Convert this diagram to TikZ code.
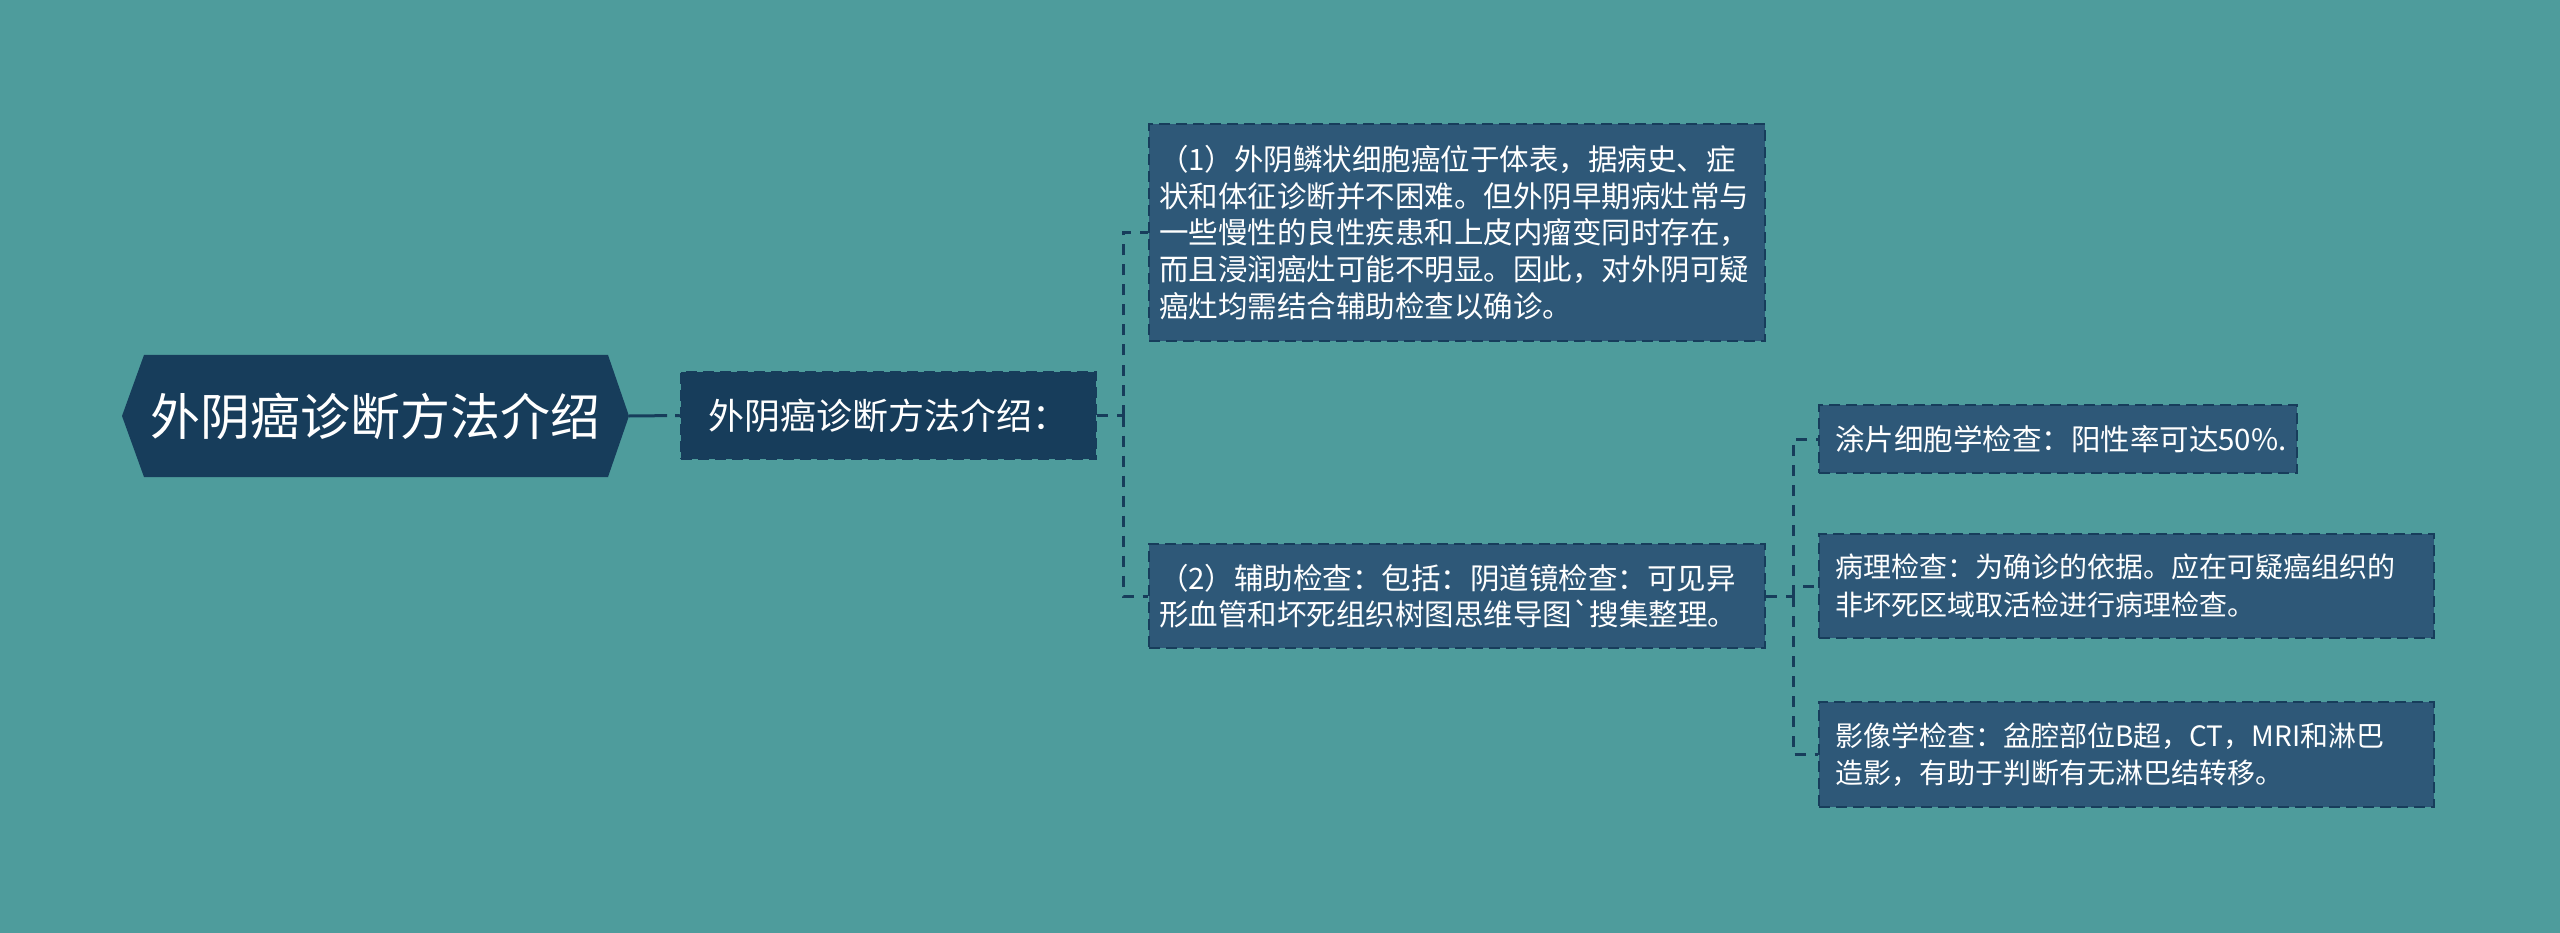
\documentclass[tikz,border=0pt]{standalone}
\usepackage{fontspec}
\setmainfont{Noto Sans CJK SC}[Ligatures=TeXOff]
\usetikzlibrary{calc}
\definecolor{bg}{HTML}{4E9C9C}
\definecolor{rootc}{HTML}{173D5B}
\definecolor{boxc}{HTML}{2E5878}
\definecolor{edgec}{HTML}{173D5B}
\begin{document}
\begin{tikzpicture}[x=1pt,y=1pt,
  leaf/.style={draw=edgec, fill=boxc, line width=2.5pt, dash pattern=on 11pt off 6pt, text=white, align=left, inner xsep=10pt, inner ysep=0pt, font=\fontsize{29.5}{36.7}\selectfont},
  leafsm/.style={leaf, font=\fontsize{28}{37.5}\selectfont},
  conn/.style={draw=edgec, line width=3pt, dash pattern=on 11pt off 9pt},
]
\fill[bg] (0,0) rectangle (2560,-933);
\useasboundingbox (0,0) rectangle (2560,-933);
% root hexagon
\fill[rootc] (122,-416) -- (144,-355) -- (608,-355) -- (629,-416) -- (608,-477) -- (144,-477) -- cycle;
\node[minimum width=507pt, minimum height=122pt, inner sep=0pt, text=white, font=\fontsize{50}{60}\selectfont] (root) at (375.5,-416) {外阴癌诊断方法介绍};
\node[leaf, fill=rootc, minimum width=415pt, minimum height=87pt, font=\fontsize{36}{44}\selectfont] (n2) at (888.5,-415.5) {外阴癌诊断方法介绍：};
\node[leaf, text width=596pt, minimum height=217pt] (a) at (1457,-232.5) {（1）外阴鳞状细胞癌位于体表，据病史、症\\状和体征诊断并不困难。但外阴早期病灶常与\\一些慢性的良性疾患和上皮内瘤变同时存在，\\而且浸润癌灶可能不明显。因此，对外阴可疑\\癌灶均需结合辅助检查以确诊。};
\node[leaf, text width=596pt, minimum height=104pt] (b) at (1457,-596) {（2）辅助检查：包括：阴道镜检查：可见异\\形血管和坏死组织树图思维导图\symbol{"60}搜集整理。};
\node[leaf, inner xsep=16pt, text width=446pt, minimum height=68pt] (c) at (2058,-439) {涂片细胞学检查：阳性率可达50\%.};
\node[leafsm, inner xsep=16pt, text width=583pt, minimum height=104pt] (d) at (2126.5,-586) {病理检查：为确诊的依据。应在可疑癌组织的\\非坏死区域取活检进行病理检查。};
\node[leafsm, inner xsep=16pt, text width=583pt, minimum height=105pt] (e) at (2126.5,-754.5) {影像学检查：盆腔部位B超，CT，MRI和淋巴\\造影，有助于判断有无淋巴结转移。};
% connectors
\draw[conn, dash pattern=on 38pt off 8pt] (root.east) -- (n2.west);
\coordinate (s1) at (1123,-415.5);
\draw[conn] (n2.east) -- (s1);
\draw[conn] (s1) |- (a.west);
\draw[conn] (s1) |- (b.west);
\coordinate (s2) at (1793,-596);
\draw[conn] (b.east) -- (s2);
\draw[conn] (s2) |- (c.west);
\draw[conn] (s2) |- (d.west);
\draw[conn] (s2) |- (e.west);
\end{tikzpicture}
\end{document}
